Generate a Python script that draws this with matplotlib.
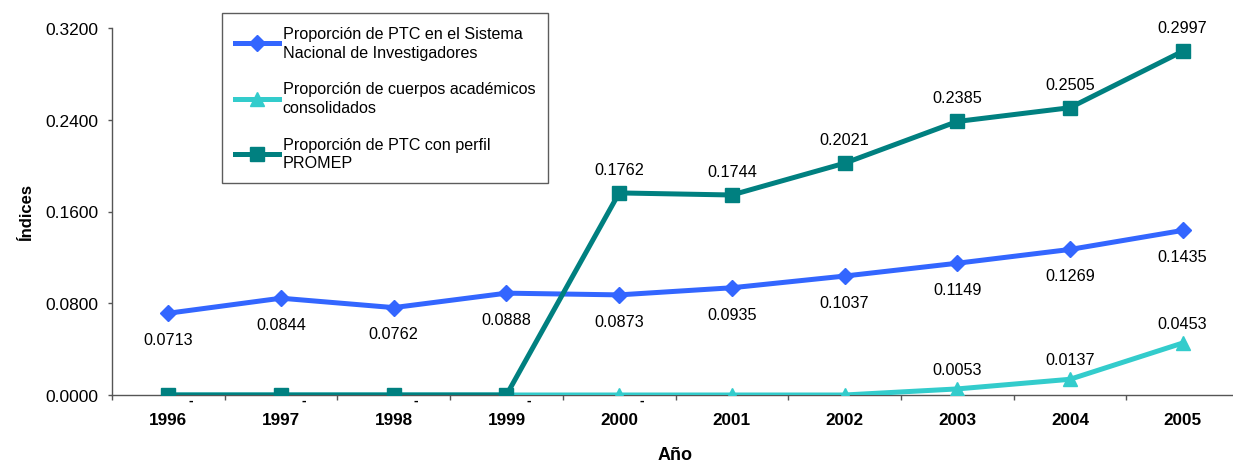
import matplotlib
matplotlib.use("Agg")
import matplotlib.pyplot as plt
from matplotlib.ticker import FixedLocator, NullFormatter

plt.rcParams['font.family'] = ['Liberation Sans', 'DejaVu Sans']

years = ["1996", "1997", "1998", "1999", "2000", "2001", "2002", "2003", "2004", "2005"]
sni = [0.0713, 0.0844, 0.0762, 0.0888, 0.0873, 0.0935, 0.1037, 0.1149, 0.1269, 0.1435]
cuerpos = [0.0, 0.0, 0.0, 0.0, 0.0, 0.0, 0.0, 0.0053, 0.0137, 0.0453]
promep = [0.0, 0.0, 0.0, 0.0, 0.1762, 0.1744, 0.2021, 0.2385, 0.2505, 0.2997]

label_sni = "Proporción de PTC en el Sistema\nNacional de Investigadores"
label_cuerpos = "Proporción de cuerpos académicos\nconsolidados"
label_promep = "Proporción de PTC con perfil\nPROMEP"

c_sni = "#3366FF"
c_cuerpos = "#33CCCC"
c_promep = "#008080"

fig = plt.figure(figsize=(12.33, 4.64), dpi=100)
ax = fig.add_axes([112 / 1233, 1 - 396 / 464, (1239 - 112) / 1233, (396 - 29) / 464])

x = list(range(len(years)))
lw = 3.6
ax.plot(x, sni, color=c_sni, lw=lw, marker="D", ms=8.5, label=label_sni, zorder=3)
ax.plot(x, cuerpos, color=c_cuerpos, lw=lw, marker="^", ms=10, label=label_cuerpos, zorder=3)
ax.plot(x, promep, color=c_promep, lw=lw, marker="s", ms=10, label=label_promep, zorder=4)

fs_data = 11.7
# value labels
for xi, v in zip(x, sni):
    ax.annotate(f"{v:.4f}", (xi, v), xytext=(0, -19), textcoords="offset points",
                ha="center", va="center", fontsize=fs_data, zorder=5)
for xi, v in zip(x, promep):
    if v > 0:
        ax.annotate(f"{v:.4f}", (xi, v), xytext=(0, 17), textcoords="offset points",
                    ha="center", va="center", fontsize=fs_data, zorder=5)
for xi, v in zip(x, cuerpos):
    if v > 0:
        ax.annotate(f"{v:.4f}", (xi, v), xytext=(0, 14), textcoords="offset points",
                    ha="center", va="center", fontsize=fs_data, zorder=5)
# zero values shown as dashes
for xi, v in zip(x[:5], cuerpos[:5]):
    ax.annotate("-", (xi, v), xytext=(16, -3.5), textcoords="offset points",
                ha="center", va="center", fontsize=10, fontweight="bold", zorder=6)

ax.set_xlim(-0.5, len(years) - 0.5)
ax.set_ylim(0, 0.32)
ax.set_yticks([0.0, 0.08, 0.16, 0.24, 0.32])
ax.set_yticklabels(["0.0000", "0.0800", "0.1600", "0.2400", "0.3200"], fontsize=12.5)
ax.set_xticks(x)
ax.set_xticklabels(years, fontsize=12.3, fontweight="bold")
ax.xaxis.set_minor_locator(FixedLocator([i + 0.5 for i in range(-1, len(years))]))
ax.xaxis.set_minor_formatter(NullFormatter())
ax.tick_params(axis="x", which="major", length=0, pad=12)
ax.tick_params(axis="x", which="minor", length=3.6, color="#555555", width=1)
ax.tick_params(axis="y", length=3, color="#555555", width=1, pad=7)

for s in ["top", "right"]:
    ax.spines[s].set_visible(False)
for s in ["left", "bottom"]:
    ax.spines[s].set_color("#555555")
    ax.spines[s].set_linewidth(1)

ax.set_xlabel("Año", fontsize=13, fontweight="bold", labelpad=14)
ax.set_ylabel("Índices", fontsize=12, fontweight="bold", labelpad=8)

leg = ax.legend(loc="upper left", bbox_to_anchor=((222 - 112) / 1127, 1 - (14 - 29) / 367),
                fontsize=11.65, frameon=True, fancybox=False, edgecolor="#333333",
                handlelength=2.7, handletextpad=0.25, labelspacing=1.35, borderpad=0.8,
                borderaxespad=0)
leg.get_frame().set_linewidth(1)
for t in leg.get_texts():
    t.set_linespacing(1.3)

fig.savefig("out.png", dpi=100)
